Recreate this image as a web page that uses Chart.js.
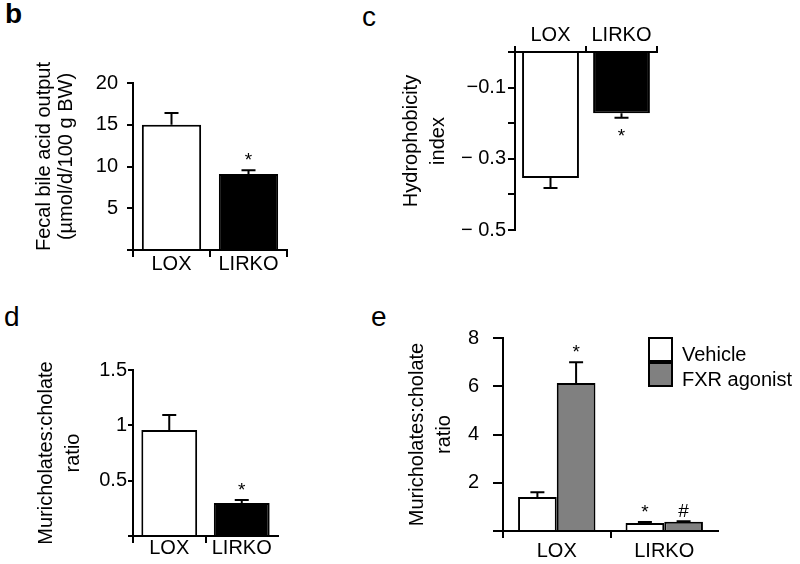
<!DOCTYPE html>
<html>
<head>
<meta charset="utf-8">
<script src="https://cdn.jsdelivr.net/npm/chart.js@4.4.1/dist/chart.umd.min.js"></script>
<style>
  body { margin: 0; background: #fff; }
  #fig { position: relative; width: 800px; height: 564px; font-family: "Liberation Sans", Arial, sans-serif; color: #000; }
  #fig canvas { position: absolute; }
  .tag { position: absolute; font-size: 28px; line-height: 1; }
</style>
</head>
<body>
<div id="fig">
  <div class="tag" style="left:5px;top:0px;font-weight:bold">b</div>
  <div class="tag" style="left:362px;top:3px">c</div>
  <div class="tag" style="left:4px;top:303px">d</div>
  <div class="tag" style="left:371px;top:303px">e</div>
  <canvas id="chartB" width="300" height="280" style="left:0;top:0"></canvas>
  <canvas id="chartC" width="310" height="280" style="left:360px;top:0"></canvas>
  <canvas id="chartD" width="300" height="284" style="left:0;top:280px"></canvas>
  <canvas id="chartE" width="420" height="284" style="left:380px;top:280px"></canvas>
</div>
<script>
const groups = ["LOX", "LIRKO"];

// b: fecal bile acid output
const bileOutput = [15.0, 9.1];
const bileOutputErr = [1.4, 0.45];
const bileOutputMarks = ["", "*"];

// c: hydrophobicity index
const hydroIndex = [-0.354, -0.172];
const hydroIndexErr = [0.028, 0.013];
const hydroIndexMarks = ["", "*"];
const hydroTickValues = [-0.1, -0.3, -0.5];
const hydroTickLabels = ["\u22120.1", "\u2212 0.3", "\u2212 0.5"];

// d: muricholates:cholate ratio
const muriRatio = [0.958, 0.298];
const muriRatioErr = [0.135, 0.027];
const muriRatioMarks = ["", "*"];

// e: muricholates:cholate ratio, vehicle vs FXR agonist
const seriesNames = ["Vehicle", "FXR agonist"];
const vehicleRatio = [1.41, 0.33];
const vehicleErr = [0.2, 0.04];
const vehicleMarks = ["", "*"];
const fxrRatio = [6.13, 0.38];
const fxrErr = [0.87, 0.02];
const fxrMarks = ["*", "#"];

const FONT = "'Liberation Sans', Arial, sans-serif";
Chart.defaults.font.family = FONT;
Chart.defaults.font.size = 20;
Chart.defaults.color = "#000";

// error bars + significance marks, read from dataset.errors / dataset.marks
const errorBarPlugin = {
  id: "errorBars",
  afterDatasetsDraw(chart) {
    const ctx = chart.ctx;
    const yScale = chart.scales.y;
    ctx.save();
    chart.data.datasets.forEach((ds, i) => {
      const meta = chart.getDatasetMeta(i);
      meta.data.forEach((bar, j) => {
        const v = ds.data[j];
        const err = ds.errors ? ds.errors[j] : 0;
        const end = yScale.getPixelForValue(v >= 0 ? v + err : v - err);
        if (err) {
          ctx.strokeStyle = "#000";
          ctx.lineWidth = 2;
          ctx.beginPath();
          ctx.moveTo(bar.x, bar.y);
          ctx.lineTo(bar.x, end);
          ctx.moveTo(bar.x - 7, end);
          ctx.lineTo(bar.x + 7, end);
          ctx.stroke();
        }
        const mark = ds.marks ? ds.marks[j] : "";
        if (mark) {
          ctx.fillStyle = "#000";
          ctx.font = "19px " + FONT;
          ctx.textAlign = "center";
          ctx.textBaseline = "alphabetic";
          ctx.fillText(mark, bar.x, v >= 0 ? end - 4 : end + 24);
        }
      });
    });
    ctx.restore();
  },
};

// boxed legend drawn inside the plot area (panel e)
const boxLegendPlugin = {
  id: "boxLegend",
  afterDraw(chart) {
    const ctx = chart.ctx;
    const area = chart.chartArea;
    const left = area.right - 70;
    const top = area.top - 1;
    ctx.save();
    chart.data.datasets.forEach((ds, i) => {
      const y0 = top + i * 25;
      ctx.fillStyle = ds.backgroundColor;
      ctx.fillRect(left, y0, 25, 25);
      ctx.strokeStyle = "#000";
      ctx.lineWidth = 2;
      ctx.strokeRect(left + 1, y0 + 1, 23, 23);
      ctx.fillStyle = "#000";
      ctx.font = "20px " + FONT;
      ctx.textAlign = "left";
      ctx.textBaseline = "middle";
      ctx.fillText(ds.label, left + 34, y0 + 18);
    });
    ctx.restore();
  },
};

const hideLastTick = (ctx) => (ctx.type === "tick" ? "#000" : "rgba(0,0,0,0)");

const xAxis = (o) => ({
  position: o.position || "bottom",
  z: 1,
  border: { color: "#000", width: 2 },
  grid: { drawOnChartArea: false, offset: true, tickLength: o.tickLength, tickWidth: 2, lineWidth: 2, tickColor: o.tickColor || "#000" },
  ticks: { padding: o.padding, font: { size: 20, lineHeight: 1 } },
  afterFit: (s) => { s.height = o.height; },
});

const yAxis = (o) => ({
  min: o.min,
  max: o.max,
  z: 1,
  border: { color: "#000", width: 2 },
  grid: { drawOnChartArea: false, tickLength: o.tickLength, tickWidth: 2, lineWidth: 2, tickColor: "#000" },
  ticks: { stepSize: o.step, padding: o.padding, font: { size: 20 }, callback: o.callback },
  title: { display: true, text: o.title, font: { size: 20, lineHeight: o.lineHeight }, padding: { top: o.titlePad } },
  afterFit: (s) => { s.width = o.width; },
});

const common = (padding) => ({
  responsive: false,
  animation: false,
  events: [],
  layout: { padding },
  plugins: { legend: { display: false }, tooltip: { enabled: false } },
});

const dropZero = (v) => (v === 0 ? "" : v);

// b
new Chart(document.getElementById("chartB"), {
  type: "bar",
  data: {
    labels: groups,
    datasets: [{
      data: bileOutput, errors: bileOutputErr, marks: bileOutputMarks,
      backgroundColor: ["#fff", "#000"], borderColor: "#000", borderWidth: 2,
      barPercentage: 0.77, categoryPercentage: 1,
    }],
  },
  options: {
    ...common({ top: 83, right: 13, bottom: 0, left: 0 }),
    scales: {
      x: xAxis({ tickLength: 7, padding: -3, height: 30 }),
      // leading en spaces nudge the rotated title up to where the original sits
      y: yAxis({ min: 0, max: 20, step: 5, tickLength: 6, padding: 9, width: 133, callback: dropZero,
        title: ["\u2002\u2002Fecal bile acid output", "\u2002\u2002(\u00b5mol/d/100 g BW)"], lineHeight: 1.1, titlePad: 33 }),
    },
  },
  plugins: [errorBarPlugin],
});

// c
new Chart(document.getElementById("chartC"), {
  type: "bar",
  data: {
    labels: groups,
    datasets: [{
      data: hydroIndex, errors: hydroIndexErr, marks: hydroIndexMarks,
      backgroundColor: ["#fff", "#000"], borderColor: "#000", borderWidth: 2,
      barPercentage: 0.8, categoryPercentage: 1,
    }],
  },
  options: {
    ...common({ top: 0, right: 13, bottom: 50, left: 0 }),
    scales: {
      x: xAxis({ position: "top", tickLength: 6, padding: 1, height: 52 }),
      y: yAxis({ min: -0.5, max: 0, step: 0.1, tickLength: 7, padding: 2, width: 155,
        callback: (v) => {
          const k = hydroTickValues.findIndex((t) => Math.abs(t - v) < 1e-6);
          return k >= 0 ? hydroTickLabels[k] : "";
        },
        title: ["Hydrophobicity", "index"], lineHeight: 1.35, titlePad: 38 }),
    },
  },
  plugins: [errorBarPlugin],
});

// d
new Chart(document.getElementById("chartD"), {
  type: "bar",
  data: {
    labels: groups,
    datasets: [{
      data: muriRatio, errors: muriRatioErr, marks: muriRatioMarks,
      backgroundColor: ["#fff", "#000"], borderColor: "#000", borderWidth: 2,
      barPercentage: 0.77, categoryPercentage: 1,
    }],
  },
  options: {
    ...common({ top: 90, right: 22, bottom: 0, left: 0 }),
    scales: {
      x: xAxis({ tickLength: 7, padding: -5, height: 28, tickColor: hideLastTick }),
      y: yAxis({ min: 0, max: 1.5, step: 0.5, tickLength: 5, padding: 1, width: 133, callback: dropZero,
        title: ["Muricholates:cholate", "ratio"], lineHeight: 1.35, titlePad: 33 }),
    },
  },
  plugins: [errorBarPlugin],
});

// e
new Chart(document.getElementById("chartE"), {
  type: "bar",
  data: {
    labels: groups,
    datasets: [
      {
        label: seriesNames[0], data: vehicleRatio, errors: vehicleErr, marks: vehicleMarks,
        backgroundColor: "#fff", borderColor: "#000", borderWidth: 2,
        barPercentage: 1, categoryPercentage: 0.72,
      },
      {
        label: seriesNames[1], data: fxrRatio, errors: fxrErr, marks: fxrMarks,
        backgroundColor: "#808080", borderColor: "#000", borderWidth: 2,
        barPercentage: 1, categoryPercentage: 0.72,
      },
    ],
  },
  options: {
    ...common({ top: 58, right: 82, bottom: 0, left: 0 }),
    scales: {
      x: xAxis({ tickLength: 7, padding: 3, height: 33, tickColor: hideLastTick }),
      y: yAxis({ min: 0, max: 8, step: 2, tickLength: 10, padding: 14, width: 123, callback: dropZero,
        title: ["Muricholates:cholate", "ratio"], lineHeight: 1.35, titlePad: 24 }),
    },
  },
  plugins: [errorBarPlugin, boxLegendPlugin],
});
</script>
</body>
</html>
